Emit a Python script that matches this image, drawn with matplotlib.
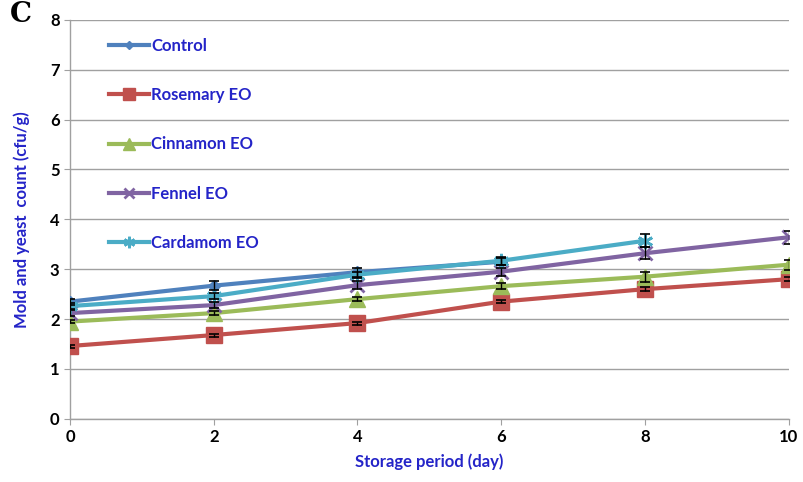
import matplotlib
matplotlib.use("Agg")
import matplotlib.pyplot as plt
import numpy as np

plt.rcParams['font.family'] = ['Lato', 'DejaVu Sans']

days = [0, 2, 4, 6, 8, 10]

control = [2.35, 2.67, 2.94, 3.15]
rosemary = [1.46, 1.68, 1.92, 2.35, 2.60, 2.80]
cinnamon = [1.95, 2.12, 2.40, 2.66, 2.85, 3.09]
fennel = [2.12, 2.28, 2.68, 2.95, 3.32, 3.64]
cardamom = [2.26, 2.46, 2.89, 3.17, 3.57]

control_err = [0.06, 0.09, 0.09, 0.07]
rosemary_err = [0.03, 0.03, 0.03, 0.03, 0.04, 0.04]
cinnamon_err = [0.03, 0.04, 0.04, 0.06, 0.10, 0.10]
fennel_err = [0.06, 0.06, 0.08, 0.08, 0.12, 0.13]
cardamom_err = [0.06, 0.06, 0.06, 0.08, 0.13]

series = [
    ("Control", control, control_err, "#4F81BD", "D", 6),
    ("Rosemary EO", rosemary, rosemary_err, "#C0504D", "s", 11),
    ("Cinnamon EO", cinnamon, cinnamon_err, "#9BBB59", "^", 11),
    ("Fennel EO", fennel, fennel_err, "#8064A2", "x", 10),
    ("Cardamom EO", cardamom, cardamom_err, "#4BACC6", (6, 2, 0), 11),
]

fig = plt.figure(figsize=(8.04, 4.82), dpi=100)
ax = fig.add_axes([0.087, 0.131, 0.894, 0.828])

for name, vals, err, col, mk, ms in series:
    x = days[:len(vals)]
    ax.errorbar(x, vals, yerr=err, fmt='none', ecolor='black',
                elinewidth=1.0, capsize=3.5, capthick=1.2, zorder=4)
    ax.plot(x, vals, color=col, marker=mk, markersize=ms, linewidth=3,
            markeredgewidth=2 if mk in ("x", (6, 2, 0)) else 1,
            markeredgecolor=col, label=name, zorder=3)

ax.set_xlim(0, 10)
ax.set_ylim(0, 8)
ax.set_xticks(np.arange(0, 11, 2))
ax.set_yticks(np.arange(0, 9, 1))
ax.yaxis.grid(True, color='#a0a0a0', linewidth=1)
ax.set_axisbelow(True)
for s in ['top', 'right']:
    ax.spines[s].set_visible(False)
for s in ['left', 'bottom']:
    ax.spines[s].set_color('#a0a0a0')
    ax.spines[s].set_linewidth(1)
ax.tick_params(axis='both', colors='#a0a0a0', labelcolor='black',
               labelsize=12, length=4)
for lab in ax.get_xticklabels() + ax.get_yticklabels():
    lab.set_fontweight('bold')

ax.set_xlabel("Storage period (day)", color='#2424C8', fontsize=12,
              fontweight='bold', labelpad=6)
ax.set_ylabel("Mold and yeast  count (cfu/g)", color='#2424C8', fontsize=12,
              fontweight='bold', labelpad=14)

leg = ax.legend(loc='upper left', bbox_to_anchor=(0.055, 0.955), frameon=False,
                borderaxespad=0, borderpad=0, markerscale=0.75,
                labelspacing=2.0, handlelength=2.4, handletextpad=0.1,
                prop={'weight': 'bold', 'size': 12})
for t in leg.get_texts():
    t.set_color('#2424C8')

fig.text(0.012, 0.955, "C", fontsize=20, fontweight='bold',
         family='DejaVu Serif', color='black')

fig.savefig("out.png", dpi=100)
